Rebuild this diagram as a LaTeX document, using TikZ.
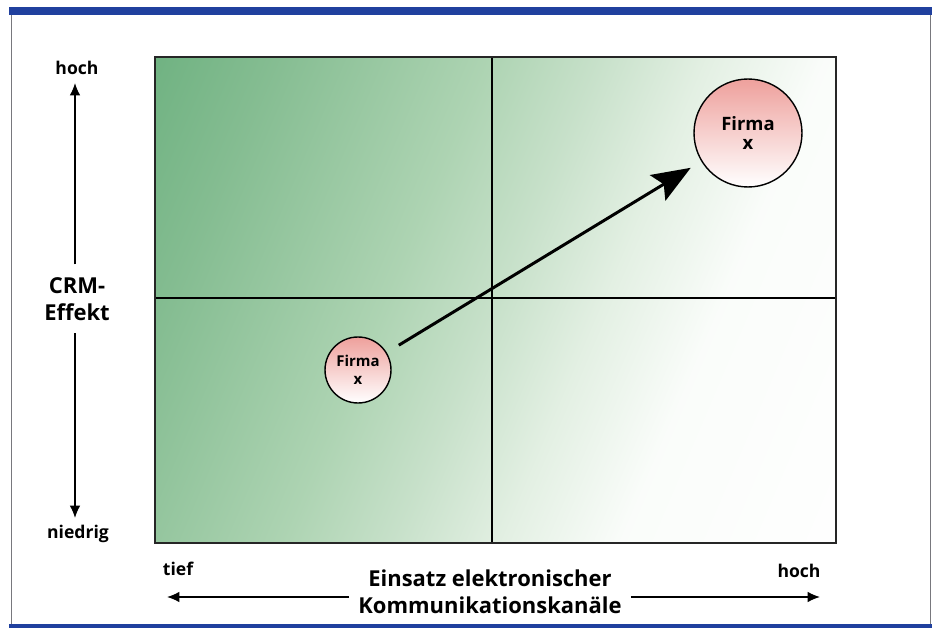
\documentclass[tikz,border=0pt]{standalone}
\usepackage{fontspec}
\setmainfont{Open Sans}
\usetikzlibrary{arrows.meta}
\usetikzlibrary{positioning}

\definecolor{bandblue}{RGB}{32,64,158}
\definecolor{framegray}{RGB}{120,120,125}
\definecolor{firmared}{RGB}{238,160,156}

% green field: dark on the left, white towards the lower right
\pgfdeclarehorizontalshading{fieldgreen}{520bp}{
	rgb(0bp)=(0.43,0.69,0.50); rgb(24bp)=(0.44,0.70,0.51); rgb(85bp)=(0.52,0.74,0.57);
	rgb(198bp)=(0.68,0.83,0.70); rgb(255bp)=(0.78,0.88,0.79); rgb(312bp)=(0.89,0.94,0.89);
	rgb(374bp)=(0.98,0.99,0.98); rgb(510bp)=(1,1,1)}

\begin{document}
\begin{tikzpicture}[
			x=0.02cm, y=-0.02cm, line width=0.6pt,
			lbl/.style={font=\bfseries\fontsize{10}{12}\selectfont, inner sep=1pt}, % axis end labels
			title/.style={font=\bfseries\fontsize{12.5}{15.5}\selectfont, align=center, inner sep=1pt},
			firma/.style={circle, draw, line width=0.8pt, top color=firmared, bottom color=white,
					align=center, inner sep=0pt},
			axis/.style={-{Latex[length=7pt,width=6pt]}, line width=0.8pt},
			trend/.style={-{Stealth[length=22pt,width=17pt,inset=4pt]}, line width=1.7pt},
		]
		\useasboundingbox (0,0) rectangle (934,628);

		% --- page frame
		\fill[bandblue] (9,7) rectangle (932,15);
		\fill[bandblue] (9,624) rectangle (932,628);
		\draw[framegray, line width=0.7pt] (11.5,15) -- (11.5,624);
		\draw[framegray, line width=0.7pt] (930.5,15) -- (930.5,624);

		% --- portfolio field with four quadrants
		\begin{scope}
			\clip (155,57) rectangle (836,543);
			\node[inner sep=0pt, rotate=-23] (field) at (495.5,300) {\pgfuseshading{fieldgreen}};
		\end{scope}
		\draw (492,57) -- (492,543);
		\draw (155,298) -- (836,298);
		\draw[line width=1.3pt, black!85] (155,57) rectangle (836,543);

		% --- vertical axis
		\node[lbl] (yhoch) at (77,68) {hoch};
		\node[lbl] (ynied) at (78,534) {niedrig};
		\node[title, inner ysep=7pt] (crm) at (77,299) {CRM-\\Effekt};
		\coordinate (yhi) at (75,83);
		\coordinate (ylo) at (75,518);
		\draw[axis] (crm.north -| yhi) -- (yhi);
		\draw[axis] (crm.south -| ylo) -- (ylo);

		% --- horizontal axis
		\node[lbl] (xtief) at (178,569) {tief};
		\node[lbl] (xhoch) at (799,571) {hoch};
		\node[title, inner xsep=5pt] (einsatz) at (490,592) {Einsatz elektronischer\\Kommunikationskanäle};
		\coordinate (xlo) at (167,597);
		\coordinate (xhi) at (820,597);
		\draw[axis] (einsatz.west |- xlo) -- (xlo);
		\draw[axis] (einsatz.east |- xhi) -- (xhi);

		% --- the company now and later
		\node[firma, minimum size=1.32cm, font=\bfseries\fontsize{8.5}{10}\selectfont]
		(firma1) at (358,370) {Firma\\x};
		\node[firma, minimum size=2.16cm, font=\bfseries\fontsize{10.5}{10.5}\selectfont]
		(firma2) at (748,133) {Firma\\x};
		\draw[trend, shorten <=8pt, shorten >=7pt] (firma1) -- (firma2);
	\end{tikzpicture}
\end{document}
